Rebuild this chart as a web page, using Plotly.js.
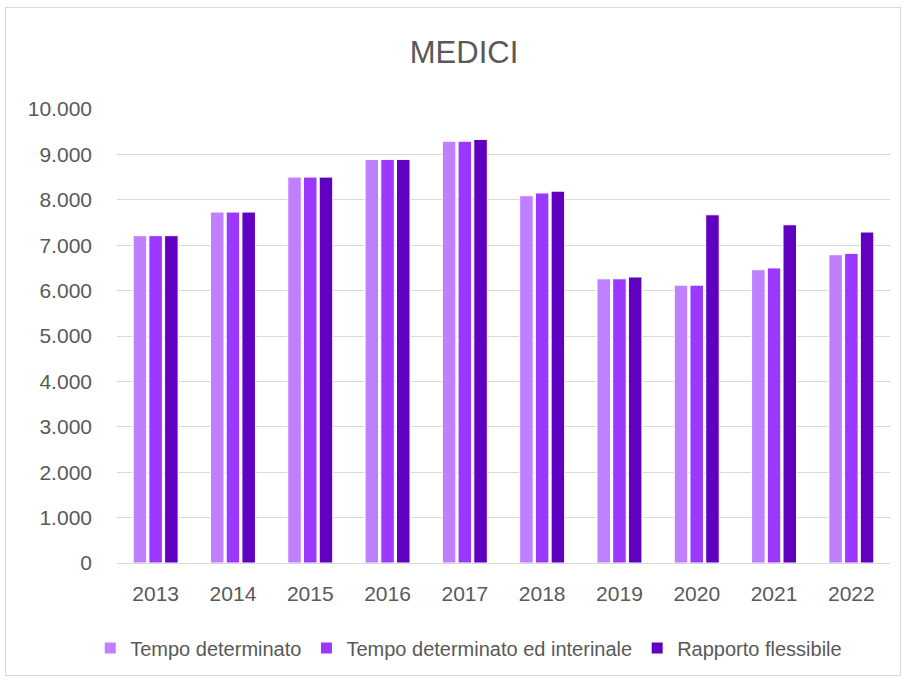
<!DOCTYPE html>
<html>
<head>
<meta charset="utf-8">
<script src="https://cdn.plot.ly/plotly-3.0.1.min.js"></script>
<style>
  html, body { margin: 0; padding: 0; background: #fff; }
  #chart { position: absolute; left: 0; top: 0; width: 908px; height: 681px; }
  #frame { position: absolute; left: 5px; top: 7px; width: 894px; height: 667px; border: 1px solid #D9D9D9; pointer-events: none; }
</style>
</head>
<body>
<div id="chart"></div>
<div id="frame"></div>
<script>
const years = ['2013','2014','2015','2016','2017','2018','2019','2020','2021','2022'];
const tempoDeterminato = [7210, 7730, 8500, 8890, 9290, 8090, 6260, 6120, 6460, 6790];
const tempoDetInterinale = [7210, 7730, 8500, 8890, 9290, 8150, 6260, 6120, 6500, 6820];
const rapportoFlessibile = [7210, 7730, 8500, 8890, 9330, 8190, 6300, 7670, 7450, 7290];
const seriesNames = ['Tempo determinato', 'Tempo determinato ed interinale', 'Rapporto flessibile'];
const colors = ['#BF7FFF', '#9B38FF', '#6000C0'];
const yTicks = [0,1000,2000,3000,4000,5000,6000,7000,8000,9000,10000];

const font = "'Liberation Sans', 'DejaVu Sans', sans-serif";
const traces = [tempoDeterminato, tempoDetInterinale, rapportoFlessibile].map((vals, i) => ({
  type: 'bar',
  name: seriesNames[i],
  x: years,
  y: vals,
  marker: { color: colors[i], line: { color: '#FFFFFF', width: 1 } },
  hoverinfo: 'x+y+name'
}));

const layout = {
  width: 908, height: 681,
  paper_bgcolor: '#FFFFFF', plot_bgcolor: '#FFFFFF',
  margin: { l: 117, r: 18, t: 109, b: 118, autoexpand: false },
  separators: ',.',
  barmode: 'group',
  bargap: 0.39,
  bargroupgap: 0.14,
  title: { text: 'MEDICI', x: 464/908, xref: 'container', xanchor: 'center', y: 1 - 52/681, yanchor: 'middle', yref: 'container',
           font: { family: font, size: 31, color: '#595959' } },
  xaxis: { type: 'category', tickfont: { family: font, size: 21, color: '#595959' },
           showgrid: false, showline: true, linecolor: '#D9D9D9', ticks: '', ticklabelstandoff: 12, automargin: false },
  yaxis: { range: [0, 10000], tickvals: yTicks, tickformat: ',d', showgrid: true, gridcolor: '#D9D9D9', gridwidth: 1,
           zeroline: true, zerolinecolor: '#D9D9D9', showline: false, ticks: '', ticklabelstandoff: 24,
           tickfont: { family: font, size: 21, color: '#595959' }, automargin: false },
  showlegend: true,
  legend: { orientation: 'h', x: 0.455, xanchor: 'center', y: (563-648)/454, yanchor: 'middle',
            font: { family: font, size: 20, color: '#595959' }, itemwidth: 30, traceorder: 'normal' }
};

Plotly.newPlot('chart', traces, layout, { displayModeBar: false, staticPlot: true });
</script>
</body>
</html>
